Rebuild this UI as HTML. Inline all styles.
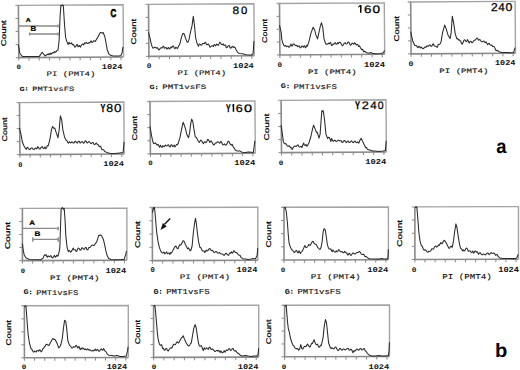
<!DOCTYPE html>
<html><head><meta charset="utf-8"><style>
html,body{margin:0;padding:0;background:#fff;}
svg{display:block}
.fr{fill:none;stroke:#a4a4a4;stroke-width:1.4}
.ax{fill:none;stroke:#8a8a8a;stroke-width:1.6}
.tk{fill:none;stroke:#888;stroke-width:1.0}
.cv{fill:none;stroke:#2a2a2a;stroke-width:1.05;stroke-linejoin:round}
.gt{fill:none;stroke:#8a8a8a;stroke-width:1.4}
text{font-family:"Liberation Sans",sans-serif;fill:#111;text-rendering:geometricPrecision}
.sm{font-family:"Liberation Mono",monospace;fill:#111;stroke:#111;stroke-width:0.12}
.nm{font-family:"Liberation Mono",monospace;font-weight:bold;fill:#111}
.cnt{font-family:"Liberation Sans",sans-serif;fill:#000;stroke:#000;stroke-width:0.22}
.lyb{font-family:"Liberation Sans",sans-serif;font-weight:bold;fill:#000;stroke:#000;stroke-width:0.3}
.lm{font-family:"Liberation Sans",sans-serif;fill:#000;stroke:#000;stroke-width:0.25}
.lr{font-family:"Liberation Sans",sans-serif;fill:#000;stroke:#000;stroke-width:0.15}
.lb{font-family:"Liberation Sans",sans-serif;font-weight:bold;fill:#000;stroke:#000;stroke-width:0.7}
.gl{font-family:"Liberation Sans",sans-serif;font-weight:bold;fill:#000;stroke:#000;stroke-width:0.2}
.gr{font-family:"Liberation Sans",sans-serif;fill:#111;stroke:#111;stroke-width:0.15}
.big{font-family:"Liberation Sans",sans-serif;font-weight:bold;fill:#000}
</style></head><body>
<svg width="520" height="370" viewBox="0 0 520 370" xmlns="http://www.w3.org/2000/svg">
<path d="M15.40 5.42L123.09 4.77L123.50 57.00" class="fr"/>
<path d="M18.40 5.40L18.81 57.63L123.50 57.00" class="ax"/>
<path d="M15.50 18.46h3M15.61 31.52h3M15.71 44.57h3M15.81 57.63h3M18.81 57.63v3M29.04 57.57v3M39.26 57.51v3M49.48 57.45v3M59.71 57.38v3M69.93 57.32v3M80.15 57.26v3M90.38 57.20v3M100.60 57.14v3M110.82 57.08v3M121.05 57.01v3" class="tk"/>
<polyline points="18.40,44.60 19.90,53.50 22.30,56.40 25.00,56.40 30.00,56.40 35.00,56.40 39.30,56.40 42.20,52.20 45.00,56.00 47.40,54.30 48.22,54.75 49.03,53.45 49.85,54.66 50.67,53.15 51.48,54.19 52.30,53.20 53.10,52.21 53.90,52.97 54.70,51.45 55.50,52.31 56.30,51.60 57.15,50.23 58.00,50.30 59.10,40.50 60.10,16.20 60.90,5.40 61.70,5.82 62.50,4.96 63.30,5.40 64.50,24.30 65.60,37.30 66.70,41.10 68.20,44.60 69.00,42.30 69.90,43.62 70.80,43.50 71.57,42.81 72.33,44.70 73.10,44.60 73.87,44.82 74.63,47.02 75.40,46.90 76.50,45.20 77.27,44.41 78.03,46.78 78.80,46.30 79.57,45.44 80.33,47.15 81.10,45.80 82.00,44.50 82.90,44.00 83.67,44.91 84.43,43.06 85.20,43.50 86.30,42.30 87.20,43.38 88.10,43.50 88.87,42.44 89.63,42.92 90.40,41.70 91.17,40.85 91.93,42.61 92.70,42.30 93.55,40.85 94.40,41.10 95.25,41.45 96.10,40.00 97.90,37.10 99.60,33.70 100.30,32.43 101.00,32.50 102.10,33.10 103.10,32.50 104.80,36.50 105.90,42.30 107.10,49.20 108.80,53.80 111.10,55.60 113.40,55.90 119.20,55.90 120.90,55.60 122.10,52.70 123.00,46.90" class="cv"/>
<path d="M145.50 4.42L253.89 3.77L254.30 55.70" class="fr"/>
<path d="M148.50 4.40L148.91 56.33L254.30 55.70" class="ax"/>
<path d="M145.60 17.38h3M145.71 30.37h3M145.81 43.35h3M145.91 56.33h3M148.91 56.33v3M159.20 56.27v3M169.49 56.21v3M179.79 56.15v3M190.08 56.09v3M200.37 56.02v3M210.66 55.96v3M220.95 55.90v3M231.25 55.84v3M241.54 55.78v3M251.83 55.71v3" class="tk"/>
<polyline points="148.50,32.40 150.20,38.90 151.20,43.80 152.30,47.00 153.10,48.22 153.90,47.80 154.70,47.14 155.50,47.30 156.33,48.14 157.17,47.63 158.00,48.60 158.80,49.98 159.60,49.50 160.40,47.93 161.20,47.80 162.00,47.87 162.80,46.70 163.63,46.21 164.47,48.17 165.30,47.80 166.10,47.35 166.90,49.16 167.70,48.30 168.50,47.45 169.30,49.07 170.10,48.60 170.93,46.96 171.77,47.80 172.60,46.20 173.40,45.90 174.20,47.80 175.00,48.77 175.80,47.20 176.60,47.80 177.40,48.58 178.20,47.00 179.90,43.80 181.50,37.30 182.60,33.70 183.40,33.39 184.20,34.00 185.50,38.10 187.20,42.20 188.00,42.06 188.80,40.50 190.40,32.40 192.00,25.90 193.30,16.20 194.50,25.90 195.60,37.30 196.90,43.00 198.50,46.20 199.25,44.10 200.00,44.00 200.85,45.09 201.70,45.20 202.60,43.58 203.50,43.50 204.27,43.69 205.03,42.18 205.80,42.90 206.65,44.75 207.50,44.60 208.35,44.06 209.20,45.20 209.90,47.15 210.60,46.90 211.65,45.73 212.70,45.80 213.47,46.54 214.23,44.54 215.00,45.20 215.77,45.85 216.53,44.06 217.30,44.60 218.15,45.37 219.00,44.00 219.75,42.30 220.50,42.90 221.50,44.51 222.50,44.60 223.27,43.88 224.03,45.41 224.80,45.20 225.57,45.02 226.33,47.64 227.10,47.50 228.30,45.80 229.15,45.46 230.00,47.50 230.85,48.25 231.70,46.90 232.47,46.30 233.23,47.58 234.00,46.90 234.90,47.13 235.80,49.20 237.50,52.10 239.20,53.60 242.70,53.80 246.10,54.80 249.00,55.10 251.30,55.00 253.10,53.80 253.90,41.10" class="cv"/>
<path d="M276.50 3.52L384.29 2.87L384.70 54.30" class="fr"/>
<path d="M279.50 3.50L279.91 54.93L384.70 54.30" class="ax"/>
<path d="M276.60 16.36h3M276.70 29.22h3M276.80 42.07h3M276.91 54.93h3M279.91 54.93v3M290.14 54.87v3M300.37 54.81v3M310.61 54.75v3M320.84 54.68v3M331.08 54.62v3M341.31 54.56v3M351.54 54.50v3M361.78 54.44v3M372.01 54.38v3M382.24 54.31v3" class="tk"/>
<polyline points="279.50,25.10 281.20,32.40 281.80,39.70 283.10,43.80 283.90,45.38 284.70,46.20 285.53,45.45 286.37,46.70 287.20,46.20 288.00,46.01 288.80,47.14 289.60,47.00 290.90,44.10 292.00,46.20 293.05,44.14 294.10,44.10 295.10,45.37 296.10,45.70 296.90,45.30 297.70,46.72 298.50,46.20 299.30,45.91 300.10,47.80 300.93,47.69 301.77,46.00 302.60,46.20 303.40,47.29 304.20,45.63 305.00,47.00 305.80,47.78 306.60,45.38 307.40,46.20 309.00,41.30 310.70,34.10 313.10,27.20 314.70,30.00 315.90,34.90 317.50,38.90 318.80,33.20 320.40,25.90 321.50,22.70 322.80,27.60 324.00,38.90 325.60,43.50 326.65,44.39 327.70,44.10 328.47,42.99 329.23,43.96 330.00,42.90 330.77,42.56 331.53,45.60 332.30,45.20 333.07,43.95 333.83,44.17 334.60,42.90 335.37,42.71 336.13,44.19 336.90,44.00 337.67,42.67 338.43,43.72 339.20,42.30 340.10,42.32 341.00,43.50 341.85,45.01 342.70,45.80 344.40,42.90 345.25,42.74 346.10,44.00 347.00,43.82 347.90,42.30 348.75,42.06 349.60,43.50 350.45,45.21 351.30,44.60 352.20,43.11 353.10,43.50 353.87,44.29 354.63,42.62 355.40,43.50 356.25,44.98 357.10,44.60 357.87,44.59 358.63,46.52 359.40,45.80 360.60,48.10 361.70,49.80 362.67,49.28 363.63,51.89 364.60,51.30 366.90,52.70 369.20,53.30 370.90,52.50 372.70,53.60 376.10,53.70 380.70,53.60 383.60,52.70 384.40,50.40" class="cv"/>
<path d="M407.70 2.02L515.09 1.37L515.50 53.25" class="fr"/>
<path d="M410.70 2.00L411.11 53.88L515.50 53.25" class="ax"/>
<path d="M407.80 14.97h3M407.90 27.94h3M408.01 40.91h3M408.11 53.88h3M411.11 53.88v3M421.30 53.82v3M431.50 53.76v3M441.69 53.69v3M451.89 53.63v3M462.08 53.57v3M472.28 53.51v3M482.47 53.45v3M492.66 53.39v3M502.86 53.33v3M513.05 53.26v3" class="tk"/>
<polyline points="410.70,31.60 411.80,36.50 412.80,41.30 413.90,43.50 414.70,45.48 415.50,45.40 416.35,45.51 417.20,47.00 418.00,47.60 418.80,46.35 419.60,46.70 420.40,47.96 421.20,47.02 422.00,47.80 422.80,48.62 423.60,48.60 424.45,47.26 425.30,47.00 426.10,47.23 426.90,45.82 427.70,46.20 428.50,46.24 429.30,45.11 430.10,45.10 430.95,46.14 431.80,46.20 432.60,44.55 433.40,43.80 434.20,45.67 435.00,46.20 435.80,46.22 436.60,47.00 437.40,47.29 438.20,44.52 439.00,44.60 440.00,43.88 441.00,42.20 442.60,32.40 444.70,25.10 446.30,29.20 448.00,34.90 450.10,38.60 451.20,32.40 452.30,16.20 453.60,22.70 455.30,34.10 456.90,38.90 457.70,38.59 458.50,40.09 459.30,39.70 460.00,40.80 460.77,41.27 461.53,43.53 462.30,44.20 464.00,40.20 464.90,39.68 465.80,41.30 466.65,41.64 467.50,39.60 469.20,43.10 470.10,41.45 471.00,41.30 471.85,42.67 472.70,42.50 473.55,40.92 474.40,40.20 475.25,40.05 476.10,39.00 476.80,37.95 477.50,38.20 478.25,39.78 479.00,40.20 479.90,39.44 480.80,40.80 481.65,41.75 482.50,41.70 483.35,41.12 484.20,41.30 485.10,42.76 486.00,41.90 487.70,44.80 488.55,43.40 489.40,43.60 490.25,44.98 491.10,45.40 491.87,44.95 492.63,46.52 493.40,46.50 494.30,46.85 495.20,48.80 496.05,50.68 496.90,50.20 499.20,51.70 501.50,52.50 506.10,52.50 510.70,52.65 513.60,52.50 515.10,47.70" class="cv"/>
<path d="M16.50 102.62L123.79 101.97L124.20 154.00" class="fr"/>
<path d="M19.50 102.60L19.91 154.63L124.20 154.00" class="ax"/>
<path d="M16.60 115.61h3M16.71 128.61h3M16.81 141.62h3M16.91 154.63h3M19.91 154.63v3M30.10 154.57v3M40.28 154.51v3M50.46 154.44v3M60.65 154.38v3M70.83 154.32v3M81.02 154.26v3M91.20 154.20v3M101.39 154.14v3M111.57 154.08v3M121.76 154.01v3" class="tk"/>
<polyline points="19.50,128.00 21.20,135.30 22.30,141.80 23.90,145.80 25.50,148.60 26.33,149.45 27.17,147.19 28.00,147.90 28.95,149.33 29.90,149.60 30.95,148.08 32.00,147.90 33.05,149.25 34.10,149.60 35.10,147.94 36.10,148.30 36.90,148.84 37.70,146.75 38.50,147.50 39.30,148.94 40.10,149.10 41.15,147.30 42.20,146.60 43.20,148.49 44.20,148.30 45.00,146.85 45.80,148.84 46.60,147.50 47.40,145.61 48.20,145.80 49.90,139.30 51.50,129.60 52.60,126.40 53.65,128.25 54.70,128.00 56.30,132.90 58.00,137.70 59.10,130.40 60.40,115.80 61.70,119.90 62.80,129.60 64.50,136.90 66.10,140.20 66.90,140.42 67.70,142.60 68.47,143.12 69.23,141.74 70.00,142.50 70.77,142.96 71.53,141.72 72.30,141.90 73.15,142.88 74.00,143.10 74.90,141.61 75.80,141.30 76.65,142.78 77.50,143.10 78.35,141.26 79.20,141.30 80.10,143.06 81.00,142.50 81.85,141.46 82.70,141.90 83.55,143.35 84.40,142.50 85.25,140.71 86.10,141.30 87.00,143.06 87.90,142.50 88.75,141.53 89.60,141.90 90.45,143.30 91.30,143.60 92.20,142.50 93.10,142.50 93.95,144.18 94.80,144.80 95.65,143.42 96.50,143.10 97.40,144.83 98.30,144.80 99.40,146.80 100.25,146.03 101.10,147.50 102.00,149.72 102.90,149.80 103.75,149.84 104.60,151.40 106.90,152.50 109.80,153.20 111.50,153.40 115.00,153.40 119.60,152.90 123.10,152.50 124.10,141.90" class="cv"/>
<path d="M147.00 101.52L254.89 100.87L255.30 153.25" class="fr"/>
<path d="M150.00 101.50L150.41 153.88L255.30 153.25" class="ax"/>
<path d="M147.10 114.60h3M147.21 127.69h3M147.31 140.79h3M147.41 153.88h3M150.41 153.88v3M160.66 153.82v3M170.90 153.76v3M181.14 153.70v3M191.39 153.64v3M201.63 153.57v3M211.87 153.51v3M222.11 153.45v3M232.36 153.39v3M242.60 153.33v3M252.84 153.26v3" class="tk"/>
<polyline points="150.00,126.40 151.50,135.30 152.80,141.50 153.60,143.51 154.40,143.70 155.40,142.92 156.40,144.20 157.20,145.16 158.00,144.35 158.80,145.80 159.60,147.19 160.40,145.32 161.20,146.60 162.00,147.49 162.80,145.64 163.60,146.30 164.43,146.64 165.27,144.94 166.10,145.80 166.90,146.04 167.70,145.00 168.50,144.77 169.30,146.60 170.10,146.98 170.90,145.00 171.73,144.74 172.57,146.56 173.40,146.30 174.20,144.98 175.00,146.94 175.80,145.80 176.60,144.50 177.40,144.67 178.20,143.40 179.90,137.70 181.50,129.60 183.10,122.30 184.20,124.80 185.50,128.80 186.80,134.50 188.50,137.70 189.60,132.90 190.70,123.90 191.70,119.10 192.80,121.50 194.00,129.60 195.30,136.90 196.10,137.21 196.90,138.50 198.50,141.50 199.25,142.52 200.00,141.30 200.85,140.01 201.70,140.80 202.60,142.68 203.50,143.60 204.35,141.70 205.20,141.90 206.05,142.78 206.90,141.30 207.60,139.54 208.30,139.60 209.80,142.50 211.00,140.80 212.70,143.60 213.55,144.85 214.40,144.80 215.15,143.13 215.90,143.10 216.60,142.97 217.30,141.90 218.15,141.83 219.00,142.50 219.75,143.28 220.50,141.70 221.20,141.49 221.90,143.10 222.75,144.75 223.60,144.80 224.50,143.81 225.40,145.10 226.25,145.07 227.10,143.60 227.95,141.36 228.80,141.30 230.20,144.20 231.15,145.25 232.10,144.20 233.70,147.70 234.45,148.31 235.20,150.00 237.50,151.10 239.80,150.90 242.10,152.30 245.60,152.50 248.40,152.10 251.30,152.30 253.30,152.50 254.90,140.80" class="cv"/>
<path d="M278.10 100.42L385.99 99.77L386.40 152.00" class="fr"/>
<path d="M281.10 100.40L281.51 152.63L386.40 152.00" class="ax"/>
<path d="M278.20 113.46h3M278.31 126.52h3M278.41 139.57h3M278.51 152.63h3M281.51 152.63v3M291.76 152.57v3M302.00 152.51v3M312.24 152.45v3M322.48 152.39v3M332.73 152.32v3M342.97 152.26v3M353.21 152.20v3M363.46 152.14v3M373.70 152.08v3M383.94 152.01v3" class="tk"/>
<polyline points="281.10,125.20 282.50,134.90 283.30,141.40 284.10,143.17 284.90,143.80 285.70,143.59 286.50,144.60 287.35,146.01 288.20,146.30 289.00,145.60 289.80,146.60 290.60,147.68 291.40,147.60 292.20,149.50 293.50,147.10 294.50,145.99 295.50,146.30 296.30,146.37 297.10,145.50 297.90,144.78 298.70,146.30 299.65,147.11 300.60,146.60 301.25,146.36 301.90,147.60 303.60,143.00 304.40,145.10 305.20,145.50 306.00,144.38 306.80,146.21 307.60,145.50 309.20,142.20 310.90,136.50 312.50,129.20 313.60,125.20 314.90,128.40 316.50,132.50 317.15,132.17 317.80,134.10 319.00,138.20 320.10,134.10 321.10,120.30 321.90,110.60 322.60,111.53 323.30,110.90 324.60,120.30 325.90,134.10 327.60,138.50 328.55,137.34 329.50,137.80 330.80,141.40 331.70,138.50 332.60,140.70 333.50,141.30 334.35,140.37 335.20,140.20 336.05,141.48 336.90,141.30 337.80,140.24 338.70,140.20 339.55,140.86 340.40,140.80 341.25,140.62 342.10,142.50 342.95,142.15 343.80,140.80 344.70,140.59 345.60,141.90 346.45,142.57 347.30,141.30 348.15,141.07 349.00,142.50 349.90,142.53 350.80,141.30 351.65,140.90 352.50,142.10 353.35,142.73 354.20,141.70 355.10,141.08 356.00,142.50 356.85,142.65 357.70,141.90 358.80,143.10 360.00,140.20 361.10,138.20 362.30,140.80 364.00,144.20 365.80,147.70 366.57,147.44 367.33,149.40 368.10,149.40 370.40,150.20 372.70,151.10 375.00,150.90 378.40,151.40 383.10,150.90 385.40,150.60 386.20,140.80" class="cv"/>
<path d="M19.40 208.41L126.90 208.09L126.90 260.30" class="fr"/>
<path d="M22.40 208.40L22.40 260.61L126.90 260.30" class="ax"/>
<path d="M19.40 221.45h3M19.40 234.51h3M19.40 247.56h3M19.40 260.61h3M22.40 260.61v3M32.61 260.58v3M42.81 260.55v3M53.02 260.52v3M63.22 260.49v3M73.43 260.46v3M83.63 260.43v3M93.84 260.40v3M104.04 260.37v3M114.25 260.34v3M124.45 260.31v3" class="tk"/>
<polyline points="22.40,243.50 23.20,250.00 24.20,254.90 26.10,258.10 29.40,259.40 34.20,259.70 40.70,259.70 43.10,258.10 44.40,254.90 45.15,255.34 45.90,254.60 47.20,257.30 48.15,255.89 49.10,256.50 49.75,256.89 50.40,255.70 51.05,255.67 51.70,257.30 52.70,257.90 53.70,256.50 54.50,255.37 55.30,257.23 56.10,256.50 56.90,255.09 57.70,256.22 58.50,254.90 59.80,248.40 60.50,227.30 61.10,209.50 61.50,208.40 62.40,207.61 63.30,209.34 64.20,208.40 65.00,219.20 65.80,235.40 67.00,246.80 68.30,251.60 68.95,250.46 69.60,250.80 70.50,252.10 71.70,251.00 73.20,248.10 73.90,249.76 74.60,249.80 75.30,249.79 76.00,251.30 76.75,251.40 77.50,249.20 78.35,247.95 79.20,248.60 80.10,250.30 81.00,249.80 81.85,247.80 82.70,248.10 83.55,249.23 84.40,249.20 85.25,247.52 86.10,247.50 87.00,249.80 87.90,249.80 88.75,247.58 89.60,247.50 90.45,247.13 91.30,245.80 92.20,245.04 93.10,245.20 93.95,245.63 94.80,244.60 95.65,243.03 96.50,242.30 97.70,238.80 98.80,235.20 99.70,235.56 100.60,234.80 101.70,236.00 103.40,239.40 104.60,244.60 105.80,250.40 106.90,255.00 108.60,258.40 110.90,259.40 116.10,259.70 120.70,259.60 124.20,259.40 125.90,253.80 126.40,251.00" class="cv"/>
<path d="M149.40 207.51L257.80 207.18L257.80 260.30" class="fr"/>
<path d="M152.40 207.50L152.40 260.62L257.80 260.30" class="ax"/>
<path d="M149.40 220.78h3M149.40 234.06h3M149.40 247.34h3M149.40 260.62h3M152.40 260.62v3M162.69 260.59v3M172.99 260.55v3M183.28 260.52v3M193.57 260.49v3M203.86 260.46v3M214.16 260.43v3M224.45 260.40v3M234.74 260.37v3M245.04 260.34v3M255.33 260.31v3" class="tk"/>
<polyline points="152.40,212.70 153.70,207.50 154.50,207.50 155.30,216.00 156.10,225.70 156.90,233.80 158.10,241.90 159.40,247.60 161.00,251.60 161.95,252.67 162.90,252.90 163.87,251.98 164.83,253.92 165.80,252.90 166.63,251.92 167.47,253.66 168.30,253.30 169.10,252.99 169.90,254.60 170.70,252.50 171.50,252.96 172.30,251.60 173.90,248.40 174.90,246.72 175.90,246.00 177.20,248.40 178.00,248.70 178.80,246.80 179.60,244.83 180.40,245.20 181.25,244.49 182.10,242.70 183.05,240.74 184.00,241.10 185.30,244.30 186.90,247.60 187.70,248.83 188.50,247.90 189.30,249.20 190.15,250.79 191.00,250.00 192.10,246.00 193.40,232.20 194.70,222.50 195.50,218.40 196.30,223.30 197.50,233.80 198.60,241.90 200.00,247.50 200.85,247.59 201.70,249.80 202.60,250.90 203.50,251.00 204.15,251.03 204.80,252.50 206.30,250.10 207.20,251.04 208.10,250.40 209.10,248.86 210.10,248.60 210.80,250.12 211.50,250.60 212.40,250.32 213.30,251.30 214.15,252.67 215.00,252.10 215.85,251.57 216.70,251.80 217.60,253.18 218.50,252.90 219.35,252.37 220.20,253.30 221.05,254.08 221.90,254.10 222.75,254.01 223.60,255.20 224.50,255.28 225.40,253.60 226.25,253.21 227.10,254.40 227.95,255.21 228.80,255.20 229.50,253.06 230.20,253.30 231.40,251.80 232.15,253.27 232.90,252.70 233.65,250.67 234.40,251.00 235.10,252.20 235.80,252.50 236.65,252.47 237.50,253.60 238.35,254.79 239.20,255.20 240.05,255.24 240.90,257.30 242.70,258.70 245.00,259.00 248.40,259.40 251.30,259.00 253.10,258.40 255.40,259.00 257.10,255.60 257.70,248.10" class="cv"/>
<path d="M281.00 207.31L388.40 206.99L388.40 259.70" class="fr"/>
<path d="M284.00 207.30L284.00 260.01L388.40 259.70" class="ax"/>
<path d="M281.00 220.48h3M281.00 233.66h3M281.00 246.83h3M281.00 260.01h3M284.00 260.01v3M294.20 259.98v3M304.39 259.95v3M314.59 259.92v3M324.78 259.89v3M334.98 259.86v3M345.17 259.83v3M355.37 259.80v3M365.56 259.77v3M375.76 259.74v3M385.95 259.71v3" class="tk"/>
<polyline points="284.00,207.30 284.65,207.89 285.30,207.30 286.40,212.70 287.40,222.50 288.20,233.80 289.00,242.70 290.20,246.80 291.80,249.70 292.60,250.18 293.40,251.60 294.20,252.51 295.00,252.00 295.80,250.80 296.65,250.52 297.50,252.50 298.30,252.70 299.10,250.80 300.40,253.60 301.20,252.02 302.00,251.60 303.60,248.40 304.80,245.50 305.90,247.60 306.95,247.29 308.00,246.00 308.80,244.47 309.60,245.20 310.40,245.19 311.20,243.50 312.40,241.40 313.20,241.35 314.00,243.20 315.05,244.19 316.10,244.30 317.70,247.60 318.50,247.99 319.30,249.20 320.15,249.34 321.00,247.60 322.10,241.90 323.10,232.20 323.90,228.90 324.60,228.83 325.30,230.20 326.30,237.00 327.50,245.20 328.60,248.40 329.40,249.22 330.20,249.20 330.85,248.85 331.50,250.80 332.23,251.76 332.97,249.90 333.70,251.00 334.60,251.98 335.50,252.10 336.27,250.75 337.03,251.98 337.80,251.30 338.65,249.62 339.50,250.10 340.35,251.69 341.20,251.80 342.10,251.61 343.00,252.70 343.85,252.82 344.70,251.30 345.80,252.70 346.70,252.71 347.60,255.00 348.35,254.74 349.10,253.30 349.80,253.78 350.50,255.20 351.35,255.30 352.20,253.80 353.05,252.99 353.90,253.30 354.75,254.00 355.60,253.80 356.50,252.65 357.40,252.50 358.25,252.40 359.10,251.50 359.95,251.87 360.80,253.30 361.70,254.47 362.60,254.40 363.45,254.18 364.30,255.20 365.15,256.80 366.00,256.40 367.80,257.90 369.50,258.70 371.80,259.10 374.10,259.00 377.00,259.10 379.30,259.10 381.60,258.40 383.90,259.10 386.20,259.00 387.90,258.40 388.40,249.20" class="cv"/>
<path d="M411.90 206.91L518.50 206.59L518.50 259.20" class="fr"/>
<path d="M414.90 206.90L414.90 259.51L518.50 259.20" class="ax"/>
<path d="M411.90 220.05h3M411.90 233.21h3M411.90 246.36h3M411.90 259.51h3M414.90 259.51v3M425.02 259.48v3M435.13 259.45v3M445.25 259.42v3M455.37 259.39v3M465.49 259.36v3M475.60 259.33v3M485.72 259.30v3M495.84 259.27v3M505.95 259.24v3M516.07 259.21v3" class="tk"/>
<polyline points="414.90,206.90 415.85,207.50 416.80,206.90 417.80,218.20 418.90,232.80 420.00,240.90 421.40,245.80 422.20,246.22 423.00,248.20 423.80,249.76 424.60,250.30 425.40,249.80 426.20,250.60 427.00,251.83 427.80,252.30 428.65,251.33 429.50,251.50 430.30,251.27 431.10,250.30 431.90,248.67 432.70,249.00 433.50,249.02 434.30,247.40 435.10,246.23 435.90,246.10 436.75,247.11 437.60,246.60 438.40,244.90 439.20,245.50 440.80,242.50 441.45,243.60 442.10,243.80 443.20,241.70 444.05,240.25 444.90,240.90 446.00,242.50 447.60,245.80 448.90,248.20 449.70,248.12 450.50,246.60 451.35,246.22 452.20,247.40 453.50,240.90 454.60,232.00 455.90,223.90 457.00,228.00 458.20,236.10 459.50,244.20 460.50,248.10 461.70,249.20 462.47,250.86 463.23,249.71 464.00,251.00 464.90,250.59 465.80,248.60 466.65,247.96 467.50,249.20 468.35,251.29 469.20,251.00 470.10,250.90 471.00,252.10 471.85,252.61 472.70,251.00 473.80,253.30 474.70,251.20 475.60,251.00 476.45,252.29 477.30,251.80 478.50,254.40 479.60,252.70 480.45,252.85 481.30,254.40 482.20,254.90 483.10,254.10 483.95,254.04 484.80,254.80 485.65,254.67 486.50,253.60 487.40,253.03 488.30,253.30 489.15,254.68 490.00,254.10 490.70,252.83 491.40,252.70 492.15,253.50 492.90,253.30 493.75,253.02 494.60,253.60 495.45,255.27 496.30,254.80 497.20,254.51 498.10,256.40 499.80,257.90 502.70,258.40 506.10,258.40 510.70,258.60 515.40,258.60 517.10,257.30 518.20,254.40" class="cv"/>
<path d="M21.40 305.81L128.30 305.49L128.30 357.50" class="fr"/>
<path d="M24.40 305.80L24.40 357.81L128.30 357.50" class="ax"/>
<path d="M21.40 318.80h3M21.40 331.81h3M21.40 344.81h3M21.40 357.81h3M24.40 357.81v3M34.55 357.78v3M44.69 357.75v3M54.84 357.72v3M64.99 357.69v3M75.13 357.66v3M85.28 357.63v3M95.43 357.60v3M105.57 357.57v3M115.72 357.54v3M125.86 357.51v3" class="tk"/>
<polyline points="24.40,305.80 25.15,306.72 25.90,305.80 26.50,313.00 27.30,324.30 28.10,334.10 29.40,343.00 31.00,348.60 32.00,349.50 33.00,351.60 33.80,352.16 34.60,350.99 35.40,351.60 36.20,352.01 37.00,350.44 37.80,350.60 38.63,351.23 39.47,349.82 40.30,350.30 41.10,351.87 41.90,351.10 42.70,348.67 43.50,348.60 44.60,346.20 45.25,346.22 45.90,344.60 46.90,344.28 47.90,345.10 48.95,345.47 50.00,343.50 51.60,340.50 52.40,338.93 53.20,338.60 54.05,339.56 54.90,339.20 56.00,341.30 57.30,343.80 58.60,347.80 59.70,347.00 60.90,344.60 62.20,338.90 63.50,327.60 64.60,320.30 65.70,321.10 66.70,328.40 67.80,340.50 69.50,345.40 70.30,345.84 71.10,347.00 71.90,348.08 72.70,347.80 73.50,346.64 74.30,347.00 75.20,346.90 76.20,345.20 77.90,348.10 79.00,346.30 80.20,349.80 81.30,348.10 82.10,349.05 82.90,347.90 83.70,348.60 84.47,349.68 85.23,348.84 86.00,349.50 86.77,349.98 87.53,348.86 88.30,349.20 89.07,350.30 89.83,349.60 90.60,350.40 91.45,351.08 92.30,351.00 93.07,350.08 93.83,350.96 94.60,350.10 95.37,349.15 96.13,350.70 96.90,349.80 97.75,349.41 98.60,351.00 99.50,351.31 100.40,349.80 101.25,348.84 102.10,349.80 102.85,350.30 103.60,348.60 105.20,351.30 106.15,351.86 107.10,353.80 108.70,355.20 111.90,355.60 114.20,356.10 117.10,355.60 120.00,356.40 123.40,356.40 126.30,355.90 127.50,351.00 128.10,346.90" class="cv"/>
<path d="M150.60 305.51L258.70 305.18L258.70 357.10" class="fr"/>
<path d="M153.60 305.50L153.60 357.42L258.70 357.10" class="ax"/>
<path d="M150.60 318.48h3M150.60 331.46h3M150.60 344.44h3M150.60 357.42h3M153.60 357.42v3M163.86 357.38v3M174.13 357.35v3M184.39 357.32v3M194.65 357.29v3M204.92 357.26v3M215.18 357.23v3M225.45 357.20v3M235.71 357.17v3M245.97 357.14v3M256.24 357.11v3" class="tk"/>
<polyline points="153.60,305.50 154.25,306.13 154.90,305.50 155.70,313.00 156.50,322.70 157.30,332.40 158.10,338.90 159.40,344.10 160.50,345.40 161.70,344.60 162.60,348.60 163.45,348.26 164.30,350.30 165.10,349.94 165.90,348.60 166.70,348.63 167.50,350.60 168.30,350.95 169.10,349.50 170.10,348.25 171.10,347.80 171.90,348.06 172.70,346.20 173.50,344.29 174.30,344.60 175.30,344.69 176.30,343.00 177.10,341.77 177.90,342.50 178.70,342.94 179.50,341.30 180.80,338.90 181.45,337.77 182.10,337.60 183.20,335.70 184.40,338.90 186.00,342.50 187.60,345.10 188.65,346.05 189.70,345.40 190.50,343.42 191.30,343.00 192.50,335.70 193.80,328.40 195.10,324.60 196.20,327.60 197.30,335.70 198.60,343.80 199.45,346.06 200.30,346.20 201.10,345.56 201.90,347.00 203.20,350.60 204.30,347.80 205.10,349.25 205.90,348.60 206.60,347.75 207.30,348.60 208.27,349.44 209.23,347.13 210.20,347.80 211.05,349.44 211.90,349.20 212.80,349.10 213.70,350.10 214.55,351.19 215.40,351.50 216.25,350.48 217.10,350.40 217.87,351.26 218.63,350.35 219.40,351.00 220.17,352.43 220.93,350.90 221.70,352.10 222.60,352.84 223.50,351.80 224.27,350.65 225.03,352.20 225.80,351.00 226.57,349.83 227.33,350.56 228.10,349.80 228.95,348.47 229.80,349.20 230.65,350.49 231.50,349.80 232.40,348.42 233.30,348.60 234.05,350.61 234.80,351.00 235.75,350.64 236.70,352.10 237.55,353.12 238.40,353.30 240.20,355.20 242.50,355.90 245.40,355.60 248.30,356.10 251.10,356.40 254.00,355.90 256.90,356.10 258.10,354.40 258.60,348.10" class="cv"/>
<path d="M281.60 305.31L389.50 304.99L389.50 356.50" class="fr"/>
<path d="M284.60 305.30L284.60 356.81L389.50 356.50" class="ax"/>
<path d="M281.60 318.18h3M281.60 331.06h3M281.60 343.94h3M281.60 356.81h3M284.60 356.81v3M294.84 356.78v3M305.09 356.75v3M315.33 356.72v3M325.58 356.69v3M335.82 356.66v3M346.06 356.63v3M356.31 356.60v3M366.55 356.57v3M376.80 356.54v3M387.04 356.51v3" class="tk"/>
<polyline points="284.60,305.30 285.40,306.28 286.20,305.30 286.80,313.00 287.60,322.70 288.40,329.20 289.40,332.40 290.10,336.50 291.40,341.30 293.00,345.40 293.95,346.03 294.90,347.80 295.95,348.62 297.00,348.60 297.80,348.87 298.60,350.30 299.80,348.60 300.80,344.60 301.90,348.60 302.70,349.17 303.50,347.80 304.30,346.47 305.10,346.20 305.95,346.63 306.80,345.10 307.60,344.07 308.40,345.40 309.50,347.00 310.30,346.57 311.10,344.60 311.75,343.37 312.40,343.50 314.10,339.70 314.90,342.20 315.70,344.16 316.50,344.60 317.30,344.07 318.10,345.40 318.90,347.20 319.70,347.00 320.50,345.32 321.30,345.40 323.00,338.10 324.10,327.60 325.40,319.50 326.50,322.70 327.50,332.40 328.60,343.00 330.30,347.50 331.10,348.67 331.90,347.61 332.70,348.30 333.50,348.93 334.30,348.60 335.10,347.23 335.90,347.00 337.60,350.30 338.60,350.43 339.60,348.60 340.45,348.58 341.30,349.80 342.20,350.24 343.10,349.00 343.95,349.03 344.80,349.80 345.65,349.91 346.50,349.20 347.40,348.31 348.30,348.60 349.15,350.27 350.00,350.10 350.85,349.01 351.70,349.80 352.90,352.70 354.00,350.60 354.90,351.28 355.80,350.10 356.65,349.05 357.50,349.20 358.35,350.29 359.20,349.80 360.10,348.45 361.00,348.60 361.85,349.95 362.70,349.80 363.55,348.74 364.40,348.60 365.15,350.91 365.90,351.00 367.30,353.30 369.00,355.00 371.90,355.90 375.40,355.90 378.80,355.60 382.30,355.90 385.70,355.90 388.30,355.60 389.00,351.50 389.40,342.30" class="cv"/>
<text transform="translate(5.83 46.19) rotate(-90) scale(1.406 1)" font-size="6.92" class="cnt">Count</text>
<text transform="translate(135.53 44.39) rotate(-90) scale(1.389 1)" font-size="6.92" class="cnt">Count</text>
<text transform="translate(266.93 42.96) rotate(-90) scale(1.301 1)" font-size="6.92" class="cnt">Count</text>
<text transform="translate(398.93 41.49) rotate(-90) scale(1.384 1)" font-size="6.92" class="cnt">Count</text>
<text transform="translate(7.43 141.46) rotate(-90) scale(1.301 1)" font-size="6.92" class="cnt">Count</text>
<text transform="translate(137.43 140.47) rotate(-90) scale(1.328 1)" font-size="6.92" class="cnt">Count</text>
<text transform="translate(268.68 140.51) rotate(-90) scale(1.453 1)" font-size="6.92" class="cnt">Count</text>
<text transform="translate(10.43 249.27) rotate(-90) scale(1.481 1)" font-size="6.92" class="cnt">Count</text>
<text transform="translate(139.93 248.01) rotate(-90) scale(1.453 1)" font-size="6.92" class="cnt">Count</text>
<text transform="translate(271.18 247.50) rotate(-90) scale(1.425 1)" font-size="6.92" class="cnt">Count</text>
<text transform="translate(401.93 246.76) rotate(-90) scale(1.453 1)" font-size="6.92" class="cnt">Count</text>
<text transform="translate(11.18 345.49) rotate(-90) scale(1.384 1)" font-size="6.92" class="cnt">Count</text>
<text transform="translate(140.43 344.21) rotate(-90) scale(1.315 1)" font-size="6.92" class="cnt">Count</text>
<text transform="translate(271.18 344.22) rotate(-90) scale(1.342 1)" font-size="6.92" class="cnt">Count</text>
<text transform="translate(16.58 68.93) scale(1.094 1)" font-size="6.78" class="nm">0</text>
<text transform="translate(146.75 68.13) scale(1.107 1)" font-size="7.07" class="nm">0</text>
<text transform="translate(277.46 67.13) scale(1.078 1)" font-size="7.07" class="nm">0</text>
<text transform="translate(408.53 65.73) scale(1.165 1)" font-size="7.07" class="nm">0</text>
<text transform="translate(18.20 166.53) scale(0.991 1)" font-size="7.07" class="nm">0</text>
<text transform="translate(148.18 165.44) scale(1.119 1)" font-size="6.63" class="nm">0</text>
<text transform="translate(278.86 164.63) scale(1.101 1)" font-size="6.92" class="nm">0</text>
<text transform="translate(20.79 272.53) scale(1.064 1)" font-size="6.78" class="nm">0</text>
<text transform="translate(150.59 272.23) scale(0.979 1)" font-size="7.37" class="nm">0</text>
<text transform="translate(280.76 271.64) scale(1.150 1)" font-size="6.63" class="nm">0</text>
<text transform="translate(411.75 271.73) scale(1.107 1)" font-size="7.07" class="nm">0</text>
<text transform="translate(21.66 369.13) scale(1.101 1)" font-size="6.92" class="nm">0</text>
<text transform="translate(151.76 369.03) scale(1.101 1)" font-size="6.92" class="nm">0</text>
<text transform="translate(281.76 369.03) scale(1.101 1)" font-size="6.92" class="nm">0</text>
<text transform="translate(101.72 68.73) scale(1.173 1)" font-size="7.37" class="nm">1024</text>
<text transform="translate(232.91 67.73) scale(1.185 1)" font-size="7.37" class="nm">1024</text>
<text transform="translate(363.91 66.63) scale(1.173 1)" font-size="7.51" class="nm">1024</text>
<text transform="translate(495.03 64.83) scale(1.132 1)" font-size="7.51" class="nm">1024</text>
<text transform="translate(103.21 165.93) scale(1.179 1)" font-size="7.37" class="nm">1024</text>
<text transform="translate(234.21 165.03) scale(1.173 1)" font-size="7.51" class="nm">1024</text>
<text transform="translate(365.20 163.73) scale(1.179 1)" font-size="7.51" class="nm">1024</text>
<text transform="translate(105.41 272.53) scale(1.161 1)" font-size="7.51" class="nm">1024</text>
<text transform="translate(236.62 272.03) scale(1.150 1)" font-size="7.51" class="nm">1024</text>
<text transform="translate(367.21 271.73) scale(1.196 1)" font-size="7.37" class="nm">1024</text>
<text transform="translate(498.21 271.72) scale(1.112 1)" font-size="7.81" class="nm">1024</text>
<text transform="translate(106.73 369.03) scale(1.132 1)" font-size="7.51" class="nm">1024</text>
<text transform="translate(237.72 368.73) scale(1.173 1)" font-size="7.37" class="nm">1024</text>
<text transform="translate(368.41 368.53) scale(1.234 1)" font-size="7.07" class="nm">1024</text>
<text transform="translate(46.53 76.00) scale(1.328 1)" font-size="6.83" class="sm">PI (PMT4)</text>
<text transform="translate(177.49 75.30) scale(1.318 1)" font-size="6.83" class="sm">PI (PMT4)</text>
<text transform="translate(307.89 74.10) scale(1.351 1)" font-size="6.68" class="sm">PI (PMT4)</text>
<text transform="translate(439.28 72.70) scale(1.363 1)" font-size="6.68" class="sm">PI (PMT4)</text>
<text transform="translate(50.08 279.70) scale(1.372 1)" font-size="6.68" class="sm">PI (PMT4)</text>
<text transform="translate(179.66 279.30) scale(1.370 1)" font-size="6.83" class="sm">PI (PMT4)</text>
<text transform="translate(310.77 279.00) scale(1.268 1)" font-size="7.28" class="sm">PI (PMT4)</text>
<text transform="translate(442.28 278.60) scale(1.232 1)" font-size="7.44" class="sm">PI (PMT4)</text>
<text transform="translate(19.41 90.54) scale(1.342 1)" font-size="6.41" class="nm">G</text>
<path d="M25.95 87.25h1.3v1.2h-1.3zM25.95 89.20h1.3v1.2h-1.3z" fill="#222"/>
<text transform="translate(32.16 90.60) scale(1.326 1)" font-size="6.60" class="sm">PMT1vsFS</text>
<text transform="translate(149.56 89.34) scale(1.326 1)" font-size="6.48" class="nm">G</text>
<path d="M156.10 86.00h1.3v1.2h-1.3zM156.10 88.00h1.3v1.2h-1.3z" fill="#222"/>
<text transform="translate(162.28 89.40) scale(1.372 1)" font-size="6.68" class="sm">PMT1vsFS</text>
<text transform="translate(280.86 88.43) scale(1.216 1)" font-size="7.07" class="nm">G</text>
<path d="M287.40 84.70h1.3v1.2h-1.3zM287.40 87.10h1.3v1.2h-1.3z" fill="#222"/>
<text transform="translate(293.59 88.50) scale(1.240 1)" font-size="7.28" class="sm">PMT1vsFS</text>
<text transform="translate(23.46 294.43) scale(1.216 1)" font-size="7.07" class="nm">G</text>
<path d="M30.00 290.70h1.3v1.2h-1.3zM30.00 293.10h1.3v1.2h-1.3z" fill="#222"/>
<text transform="translate(36.20 294.50) scale(1.208 1)" font-size="7.28" class="sm">PMT1vsFS</text>
<text transform="translate(153.46 293.93) scale(1.167 1)" font-size="7.37" class="nm">G</text>
<path d="M160.00 290.00h1.3v1.2h-1.3zM160.00 292.60h1.3v1.2h-1.3z" fill="#222"/>
<text transform="translate(166.18 294.00) scale(1.193 1)" font-size="7.59" class="sm">PMT1vsFS</text>
<text transform="translate(284.66 293.93) scale(1.167 1)" font-size="7.37" class="nm">G</text>
<path d="M291.20 290.00h1.3v1.2h-1.3zM291.20 292.60h1.3v1.2h-1.3z" fill="#222"/>
<text transform="translate(297.39 294.00) scale(1.190 1)" font-size="7.59" class="sm">PMT1vsFS</text>
<text transform="translate(110.57 16.69) scale(0.704 1)" font-size="11.30" class="lb">C</text>
<text transform="translate(232.38 13.69) scale(1.112 1)" font-size="10.73" class="lm">8</text>
<text transform="translate(241.06 13.69) scale(1.052 1)" font-size="10.73" class="lm">0</text>
<path d="M360.00 5.00H361.50V12.70H360.00ZM360.00 5.00L358.30 6.60L358.30 7.70L360.00 6.60Z" fill="#000"/>
<text transform="translate(363.92 12.59) scale(1.235 1)" font-size="10.88" class="lm">6</text>
<text transform="translate(372.57 12.59) scale(1.250 1)" font-size="10.88" class="lm">0</text>
<text transform="translate(490.89 11.19) scale(1.068 1)" font-size="11.30" class="lm">2</text>
<text transform="translate(498.13 11.19) scale(1.036 1)" font-size="11.30" class="lm">4</text>
<text transform="translate(505.62 11.19) scale(1.092 1)" font-size="11.30" class="lm">0</text>
<text transform="translate(100.38 111.98) scale(0.627 1)" font-size="11.58" class="lyb">Y</text>
<text transform="translate(106.26 111.98) scale(1.067 1)" font-size="11.58" class="lm">8</text>
<text transform="translate(113.98 111.98) scale(1.156 1)" font-size="11.58" class="lm">0</text>
<text transform="translate(225.88 111.69) scale(0.638 1)" font-size="10.88" class="lyb">Y</text>
<path d="M232.70 104.10H234.20V111.80H232.70ZM232.70 104.10L232.30 105.70L232.30 106.80L232.70 105.70Z" fill="#000"/>
<text transform="translate(235.86 111.69) scale(1.156 1)" font-size="10.88" class="lm">6</text>
<text transform="translate(244.04 111.69) scale(1.327 1)" font-size="10.88" class="lm">0</text>
<text transform="translate(355.07 109.49) scale(0.696 1)" font-size="10.88" class="lyb">Y</text>
<text transform="translate(361.66 109.49) scale(1.171 1)" font-size="10.88" class="lm">2</text>
<text transform="translate(370.14 109.49) scale(1.058 1)" font-size="10.88" class="lm">4</text>
<text transform="translate(377.69 109.49) scale(0.962 1)" font-size="10.88" class="lm">0</text>
<path d="M18.4 26.0H58.0M58.0 24.5v3.0" class="gt"/>
<path d="M29.6 34.0H58.0M58.0 32.5v3.0M29.6 32.5v3.0" class="gt"/>
<path d="M22.4 228.4H58.2M58.2 226.7v3.5" class="gt"/>
<path d="M32.8 239.4H58.2M58.2 237.2v4.5M32.8 237.2v4.5" class="gt"/>
<text transform="translate(25.73 22.00) scale(1.210 1)" font-size="5.67" class="gl">A</text>
<text transform="translate(30.47 30.60) scale(1.083 1)" font-size="7.27" class="gl">B</text>
<text transform="translate(29.30 225.00) scale(1.235 1)" font-size="6.40" class="gl">A</text>
<text transform="translate(34.55 235.60) scale(1.226 1)" font-size="6.69" class="gl">B</text>
<path d="M170.2 218.6L164.6 224.3" stroke="#111" stroke-width="1.4"/>
<path d="M160.5 229.9L162.9 223.0L166.7 226.4Z" fill="#111"/>
<text transform="translate(496.26 152.71) scale(0.950 1)" font-size="19.35" class="big">a</text>
<text transform="translate(494.92 356.56) scale(1.038 1)" font-size="19.40" class="big">b</text>
</svg>
</body></html>
